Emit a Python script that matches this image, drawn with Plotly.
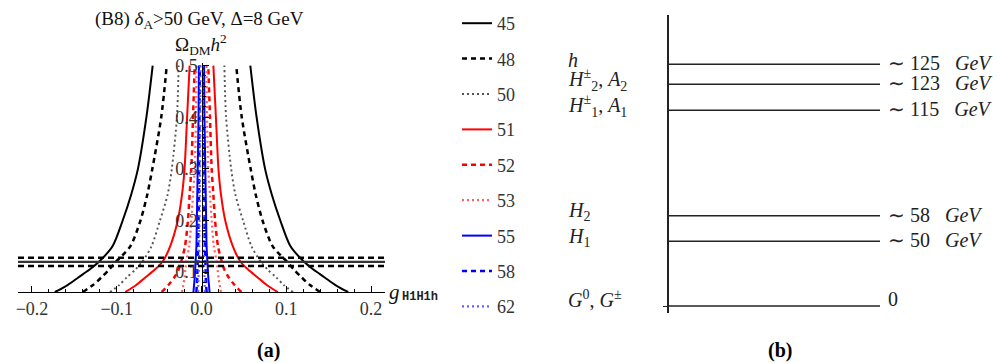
import plotly.graph_objects as go

# ---------------------------------------------------------------------------
# Panel (a): relic density vs coupling, one curve per dark-matter mass
# ---------------------------------------------------------------------------
omega_levels = [0.0615, 0.075, 0.09, 0.105, 0.12, 0.15, 0.2, 0.25, 0.3, 0.4, 0.5]

masses = ["45", "48", "50", "51", "52", "53", "55", "58", "62"]
g_45 = [0.173, 0.158, 0.145, 0.132, 0.121, 0.105, 0.093, 0.083, 0.075, 0.065, 0.0576]
g_48 = [0.140, 0.128, 0.118, 0.109, 0.101, 0.084, 0.072, 0.064, 0.058, 0.0475, 0.041]
g_50 = [0.108, 0.097, 0.088, 0.078, 0.070, 0.059, 0.049, 0.040, 0.035, 0.029, 0.027]
g_51 = [0.090, 0.077, 0.066, 0.055, 0.046, 0.037, 0.028, 0.023, 0.020, 0.017, 0.014]
g_52 = [0.047, 0.039, 0.032, 0.027, 0.024, 0.0195, 0.016, 0.014, 0.012, 0.010, 0.008]
g_53 = [0.023, 0.0215, 0.020, 0.019, 0.018, 0.0145, 0.012, 0.010, 0.008, 0.0065, 0.006]
g_55 = [0.0095, 0.0088, 0.008, 0.0075, 0.007, 0.006, 0.0055, 0.005, 0.0045, 0.0035, 0.003]
g_58 = [0.006, 0.0055, 0.005, 0.0048, 0.0045, 0.004, 0.0035, 0.003, 0.0028, 0.0024, 0.002]
g_62 = [0.004, 0.0038, 0.0035, 0.0032, 0.003, 0.0027, 0.0024, 0.002, 0.0018, 0.0016, 0.0015]
g_curves = [g_45, g_48, g_50, g_51, g_52, g_53, g_55, g_58, g_62]

relic_central = 0.1199
relic_band = [0.112, 0.128]

g_range = [-0.2165, 0.2165]
omega_range = [0.0615, 0.505]
g_ticks = [-0.2, -0.1, 0.0, 0.1, 0.2]
omega_ticks = [0.1, 0.2, 0.3, 0.4, 0.5]

_STYLES = [
    dict(color="#000000", dash="solid", width=2),
    dict(color="#000000", dash="5px,4px", width=2.5),
    dict(color="#555555", dash="2px,3px", width=1.9),
    dict(color="#ff0000", dash="solid", width=2),
    dict(color="#ff0000", dash="5px,4px", width=2.5),
    dict(color="#ff6060", dash="2px,3px", width=2.2),
    dict(color="#0000ff", dash="solid", width=2),
    dict(color="#0000ff", dash="5px,4px", width=2.5),
    dict(color="#6060ff", dash="2px,3px", width=2.2),
]

# ---------------------------------------------------------------------------
# Panel (b): schematic mass spectrum
# ---------------------------------------------------------------------------
level_names = [
    "<i>G</i><sup>0</sup>, <i>G</i><sup>±</sup>",
    "<i>H</i><sub>1</sub>",
    "<i>H</i><sub>2</sub>",
    "<i>H</i><sup>±</sup><sub>1</sub>, <i>A</i><sub>1</sub>",
    "<i>H</i><sup>±</sup><sub>2</sub>, <i>A</i><sub>2</sub>",
    "<i>h</i>",
]
_GAP = "&nbsp;" * 3
level_masses = ["0"] + [f"∼ {m}{_GAP}<i>GeV</i>" for m in ["50", "58", "115", "123", "125"]]
level_heights = [0.0, 0.647, 0.903, 1.957, 2.217, 2.417]
level_span = [0, 1]

SERIF = "Liberation Serif, Times New Roman, serif"

# the page body keeps its default 8px margin, so the figure is drawn
# 8px in from the window's top-left corner
W, H, OFF = 993, 355, 8


def px(x):
    return (x - OFF) / W


def py(y):
    return 1 - (y - OFF) / H


fig = go.Figure()

for name, g_vals, style in zip(masses, g_curves, _STYLES):
    xs = [-g for g in g_vals] + [None] + list(g_vals)
    ys = list(omega_levels) + [None] + list(omega_levels)
    fig.add_trace(
        go.Scatter(
            x=xs, y=ys, mode="lines", name=name, legendgroup=name,
            line=dict(color=style["color"], dash=style["dash"],
                      width=style["width"], shape="spline", smoothing=0.8),
            xaxis="x", yaxis="y",
        )
    )

fig.add_trace(go.Scatter(
    x=g_range, y=[relic_central] * 2, mode="lines", showlegend=False,
    line=dict(color="#333333", width=2.2), xaxis="x", yaxis="y"))
for val in relic_band:
    fig.add_trace(go.Scatter(
        x=g_range, y=[val] * 2, mode="lines", showlegend=False,
        line=dict(color="#000000", width=2.5, dash="6px,4px"),
        xaxis="x", yaxis="y"))

for h in level_heights:
    fig.add_trace(go.Scatter(
        x=level_span, y=[h, h], mode="lines", showlegend=False,
        line=dict(color="#222222", width=1.4), xaxis="x2", yaxis="y2"))

annotations = []
for name, mass, h in zip(level_names, level_masses, level_heights):
    annotations.append(dict(
        x=px(566), xref="paper", y=h, yref="y2", text=name,
        xanchor="left", yanchor="middle", yshift=7 if h == 0 else 4,
        showarrow=False, font=dict(family=SERIF, size=20, color="#222")))
    annotations.append(dict(
        x=1, xref="x2", y=h, yref="y2", text=mass,
        xanchor="left", yanchor="middle", xshift=6, yshift=7 if h == 0 else 1,
        showarrow=False, font=dict(family=SERIF, size=20, color="#222")))


def _label(x, y, text, size, color="#111", xanchor="center", family=SERIF):
    return dict(x=px(x), y=py(y), xref="paper", yref="paper", text=text,
                xanchor=xanchor, yanchor="middle", showarrow=False,
                font=dict(family=family, size=size, color=color))


annotations += [
    _label(199, 20, "(B8) <i>δ</i><sub>A</sub>&gt;50 GeV, Δ=8 GeV", 19),
    _label(201, 45, "Ω<sub>DM</sub><i>h</i><sup>2</sup>", 19),
    _label(387, 292, "<i>g</i>", 21, xanchor="left"),
    _label(400, 297, "<b>H1H1h</b>", 12, color="#222", xanchor="left",
           family="Liberation Mono, Courier New, monospace"),
    _label(268, 350, "<b>(a)</b>", 20, color="#000"),
    _label(780, 350, "<b>(b)</b>", 20, color="#000"),
]

fig.update_layout(
    width=W, height=H,
    margin=dict(l=0, r=0, t=0, b=0, autoexpand=False),
    paper_bgcolor="white", plot_bgcolor="rgba(0,0,0,0)",
    font=dict(family=SERIF, size=18, color="#333"),
    xaxis=dict(
        domain=[px(18), px(385)], range=g_range,
        tickvals=g_ticks, tickformat=".1f", ticks="inside", ticklen=6,
        minor=dict(dtick=0.02, ticks="inside", ticklen=3, tickcolor="#000"),
        showline=True, linecolor="#000", linewidth=1.2, tickcolor="#000",
        showgrid=False, zeroline=False, anchor="y",
        tickfont=dict(family=SERIF, size=18, color="#333"),
    ),
    yaxis=dict(
        domain=[py(292), py(63)], range=omega_range,
        tickvals=omega_ticks, tickformat=".1f", ticks="inside", ticklen=6,
        minor=dict(dtick=0.02, ticks="inside", ticklen=3, tickcolor="#000"),
        showline=True, linecolor="#000", linewidth=1.2, tickcolor="#000",
        showgrid=False, zeroline=False,
        anchor="free", position=px(201.5),
        tickfont=dict(family=SERIF, size=18, color="#333"),
    ),
    xaxis2=dict(
        domain=[px(669), px(880)], range=[0, 1], anchor="y2",
        visible=False,
    ),
    yaxis2=dict(
        domain=[py(313), py(15)], range=[-0.07, 2.91],
        anchor="x2", showline=True, linecolor="#222", linewidth=2,
        tickvals=[0], ticks="outside", ticklen=4, tickcolor="#222",
        showticklabels=False, showgrid=False, zeroline=False,
    ),
    legend=dict(
        x=px(457), y=1 + 3 / H, xanchor="left", yanchor="top",
        tracegroupgap=9, itemwidth=30, maxheight=400,
        font=dict(family=SERIF, size=18, color="#333"),
        bgcolor="rgba(0,0,0,0)",
    ),
    annotations=annotations,
)

fig.write_html("out.html")
